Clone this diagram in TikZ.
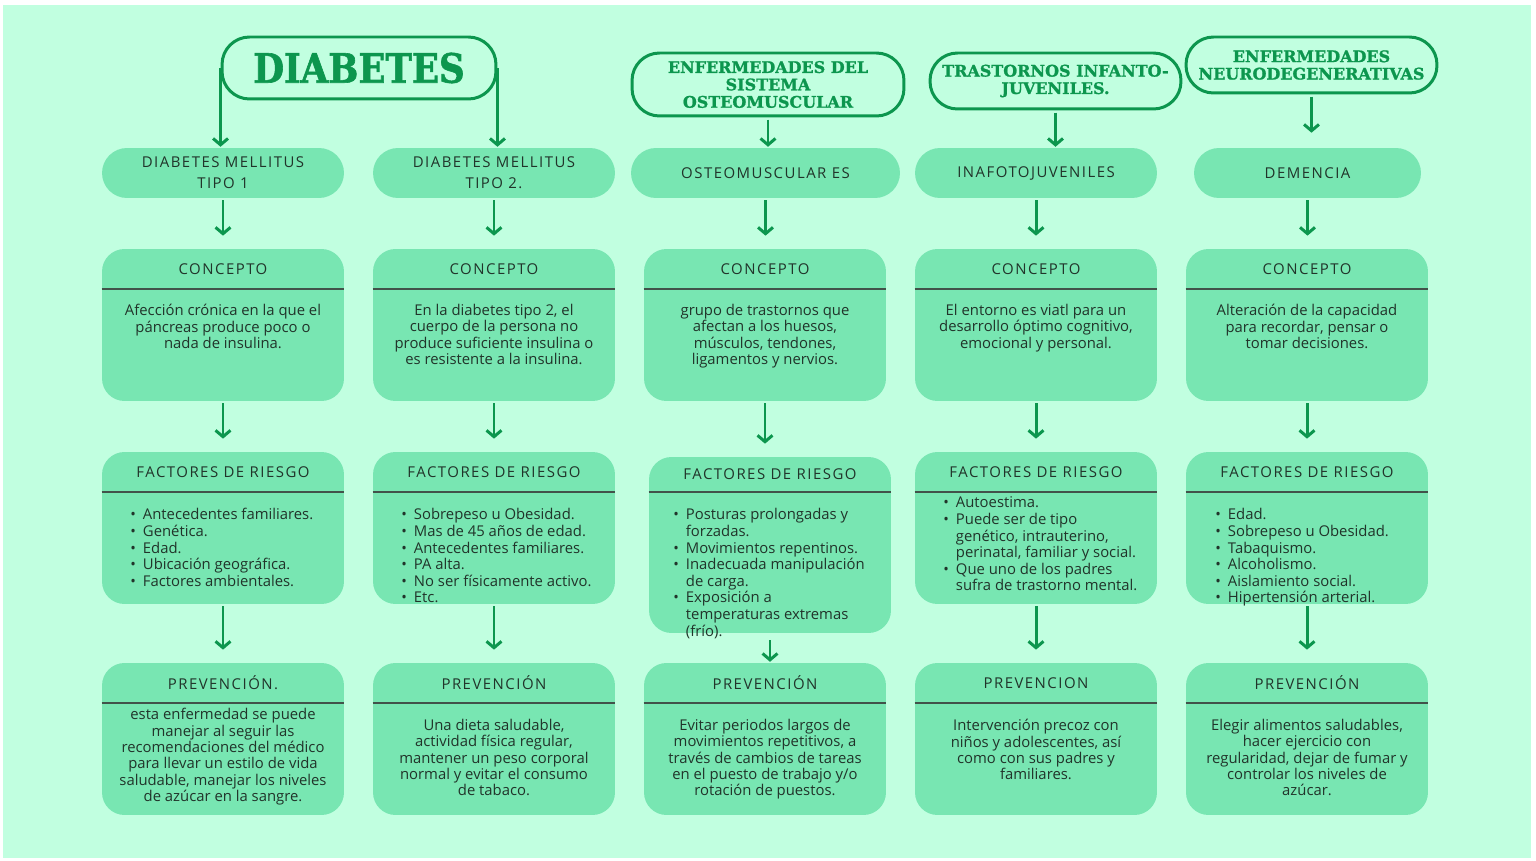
\documentclass[tikz,border=0pt]{standalone}
\usepackage{fontspec}
\usepackage{tikz}
\usetikzlibrary{arrows.meta}

\newfontfamily\bodyfont{Open Sans}
\newfontfamily\capsfont[LetterSpace=10]{Open Sans}
\newfontfamily\titlefont[FakeBold=1.2]{DejaVu Serif}
\newfontfamily\bigtitlefont[FakeStretch=0.88,FakeBold=1.5]{DejaVu Serif}

\definecolor{fondo}{RGB}{193,255,224}
\definecolor{caja}{RGB}{120,230,178}
\definecolor{verde}{RGB}{12,150,78}
\definecolor{oscuro}{RGB}{33,52,42}

\begin{document}
\begin{tikzpicture}
[x=0.02cm,y=-0.02cm,>={Straight Barb[length=3.6pt,width=8.5pt]},
  arr/.style={->,draw=verde,line width=1.7pt,shorten <=1.2pt,shorten >=7.4pt},
  title node/.style={draw=verde,line width=1.7pt,rounded corners=0.55cm,inner sep=0,
    text=verde,align=center,font=\titlefont\bfseries\fontsize{9.1}{9.9}\selectfont},
  type node/.style={fill=caja,rounded corners=0.5cm,minimum width=4.84cm,minimum height=1cm,
    inner sep=0,text=oscuro,align=center,font=\capsfont\fontsize{8.5}{11.9}\selectfont},
  card/.style={fill=caja,rounded corners=0.45cm,minimum width=4.84cm,minimum height=3.04cm,inner sep=0},
  head/.style={text=oscuro,inner sep=0,font=\capsfont\fontsize{8.5}{10}\selectfont},
  body/.style={text=oscuro,inner sep=0,align=center,anchor=north,font=\bodyfont\fontsize{8.45}{9.3}\selectfont},
  lista/.style={body,anchor=north west,align=left,font=\bodyfont\fontsize{8.45}{9.45}\selectfont},
  sepline/.style={draw=oscuro!85,line width=1.1pt}]

  \useasboundingbox (0,0) rectangle (1536,861);
  \fill[fondo] (3,5) rectangle (1531,858);

  % titulos
  \node [title node,minimum width=5.48cm,minimum height=1.24cm] (diab) at (359,68)
    {\bigtitlefont\bfseries\fontsize{23}{24}\selectfont DIABETES};
  \node [title node,minimum width=5.44cm,minimum height=1.26cm] (osteo) at (768,84.5)
    {ENFERMEDADES DEL\\SISTEMA\\OSTEOMUSCULAR};
  \node [title node,minimum width=5.02cm,minimum height=1.12cm] (infan) at (1055.5,81)
    {TRASTORNOS INFANTO-\\JUVENILES.};
  \node [title node,minimum width=5.02cm,minimum height=1.12cm] (neuro) at (1311.5,65)
    {\fontsize{9.1}{9.2}\selectfont ENFERMEDADES\\NEURODEGENERATIVAS};

  % tipos
  \node [type node] (d1) at (223,173) {DIABETES MELLITUS\\TIPO 1};
  \node [type node] (d2) at (494,173) {DIABETES MELLITUS\\TIPO 2.};
  \node [type node,minimum width=5.38cm] (t3) at (765.5,173) {OSTEOMUSCULAR ES};
  \node [type node] (t4) at (1036,173) {INAFOTOJUVENILES};
  \node [type node,minimum width=4.54cm] (t5) at (1307.5,173) {DEMENCIA};

  % concepto
  \node [card] (c1) at (223,325) {};
  \node [card] (c2) at (494,325) {};
  \node [card] (c3) at (765,325) {};
  \node [card] (c4) at (1036,325) {};
  \node [card] (c5) at (1307,325) {};
  \foreach \n in {c1,c2,c3,c4,c5} {
    \node [head] (\n h) at (\n |- 0,269) {CONCEPTO};
    \draw [sepline] (\n.west |- 0,289) -- (\n.east |- 0,289);
  }
  \node [body] (c1t) at (223,304) {Afección crónica en la que el\\páncreas produce poco o\\nada de insulina.};
  \node [body] (c2t) at (494,304) {En la diabetes tipo 2, el\\cuerpo de la persona no\\produce suficiente insulina o\\es resistente a la insulina.};
  \node [body] (c3t) at (765,304) {grupo de trastornos que\\afectan a los huesos,\\músculos, tendones,\\ligamentos y nervios.};
  \node [body] (c4t) at (1036,304) {El entorno es viatl para un\\desarrollo óptimo cognitivo,\\emocional y personal.};
  \node [body] (c5t) at (1307,304) {Alteración de la capacidad\\para recordar, pensar o\\tomar decisiones.};

  % factores de riesgo
  \node [card] (f1) at (223,528) {};
  \node [card] (f2) at (494,528) {};
  \node [card,minimum height=3.52cm] (f3) at (770,545) {};
  \node [card] (f4) at (1036,528) {};
  \node [card] (f5) at (1307,528) {};
  \foreach \n/\y in {f1/472,f2/472,f3/474,f4/472,f5/472} {
    \node [head] (\n h) at (\n |- 0,\y) {FACTORES DE RIESGO};
    \draw [sepline] (\n.west |- 0,492) -- (\n.east |- 0,492);
  }
  \node [lista] (f1t) at (130,508) {\begin{tabular}{@{}l@{\hspace{4pt}}l@{}}
    \textbullet & Antecedentes familiares.\\ \textbullet & Genética.\\ \textbullet & Edad.\\
    \textbullet & Ubicación geográfica.\\ \textbullet & Factores ambientales.\end{tabular}};
  \node [lista] (f2t) at (401,508) {\begin{tabular}{@{}l@{\hspace{4pt}}l@{}}
    \textbullet & Sobrepeso u Obesidad.\\ \textbullet & Mas de 45 años de edad.\\
    \textbullet & Antecedentes familiares.\\ \textbullet & PA alta.\\
    \textbullet & No ser físicamente activo.\\ \textbullet & Etc.\end{tabular}};
  \node [lista] (f3t) at (673,508) {\begin{tabular}{@{}l@{\hspace{4pt}}l@{}}
    \textbullet & Posturas prolongadas y\\ & forzadas.\\ \textbullet & Movimientos repentinos.\\
    \textbullet & Inadecuada manipulación\\ & de carga.\\ \textbullet & Exposición a\\
    & temperaturas extremas\\ & (frío).\end{tabular}};
  \node [lista] (f4t) at (943,496) {\begin{tabular}{@{}l@{\hspace{4pt}}l@{}}
    \textbullet & Autoestima.\\ \textbullet & Puede ser de tipo\\ & genético, intrauterino,\\
    & perinatal, familiar y social.\\ \textbullet & Que uno de los padres\\
    & sufra de trastorno mental.\end{tabular}};
  \node [lista] (f5t) at (1215,508) {\begin{tabular}{@{}l@{\hspace{4pt}}l@{}}
    \textbullet & Edad.\\ \textbullet & Sobrepeso u Obesidad.\\ \textbullet & Tabaquismo.\\
    \textbullet & Alcoholismo.\\ \textbullet & Aislamiento social.\\
    \textbullet & Hipertensión arterial.\end{tabular}};

  % prevencion
  \node [card] (p1) at (223,739) {};
  \node [card] (p2) at (494,739) {};
  \node [card] (p3) at (765,739) {};
  \node [card] (p4) at (1036,739) {};
  \node [card] (p5) at (1307,739) {};
  \foreach \n/\t in {p1/PREVENCIÓN.,p2/PREVENCIÓN,p3/PREVENCIÓN,p4/PREVENCION,p5/PREVENCIÓN} {
    \node [head] (\n h) at (\n |- 0,683) {\t};
    \draw [sepline] (\n.west |- 0,703) -- (\n.east |- 0,703);
  }
  \node [body] (p1t) at (223,708) {esta enfermedad se puede\\manejar al seguir las\\recomendaciones del médico\\para llevar un estilo de vida\\saludable, manejar los niveles\\de azúcar en la sangre.};
  \node [body] (p2t) at (494,719) {Una dieta saludable,\\actividad física regular,\\mantener un peso corporal\\normal y evitar el consumo\\de tabaco.};
  \node [body] (p3t) at (765,719) {Evitar periodos largos de\\movimientos repetitivos, a\\través de cambios de tareas\\en el puesto de trabajo y/o\\rotación de puestos.};
  \node [body] (p4t) at (1036,719) {Intervención precoz con\\niños y adolescentes, así\\como con sus padres y\\familiares.};
  \node [body] (p5t) at (1307,719) {Elegir alimentos saludables,\\hacer ejercicio con\\regularidad, dejar de fumar y\\controlar los niveles de\\azúcar.};

  % flechas
  \draw [arr,shorten <=0pt,shorten >=0.5pt] (diab.west) -- (diab.west |- d1.north);
  \draw [arr,shorten <=0pt,shorten >=0.5pt] (diab.east) -- (diab.east |- d2.north);
  \foreach \from/\to in {osteo/t3,infan/t4}
    \draw [arr,shorten >=0.5pt] (\from.south) -- (\from.south |- \to.north);
  \draw [arr,shorten >=8.5pt] (neuro.south) -- (neuro.south |- t5.north);
  \foreach \from/\to in {d1/c1,c1/f1,f1/p1,d2/c2,c2/f2,f2/p2,t3/c3,c3/f3,t4/c4,c4/f4,f4/p4,t5/c5,c5/f5,f5/p5}
    \draw [arr] (\from.south) -- (\from.south |- \to.north);
  \draw [arr,shorten <=4pt,shorten >=0.5pt] (f3.south) -- (f3.south |- p3.north);

\end{tikzpicture}
\end{document}
